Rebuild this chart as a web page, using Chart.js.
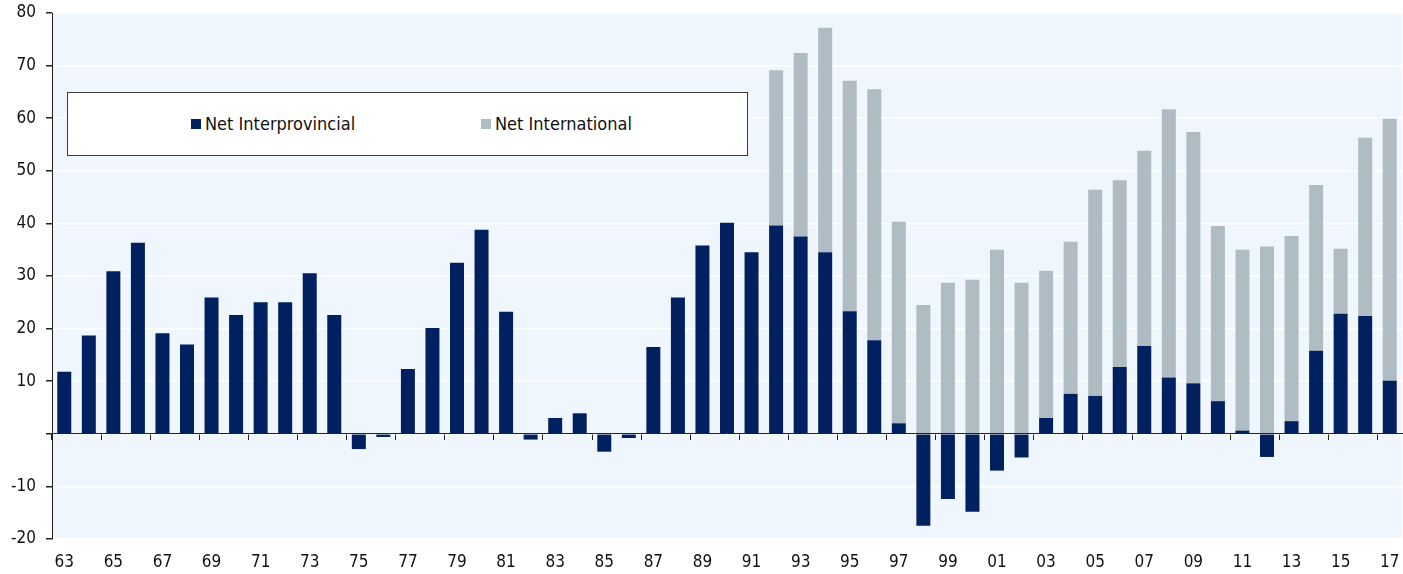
<!DOCTYPE html>
<html>
<head>
<meta charset="utf-8">
<script src="https://cdn.jsdelivr.net/npm/chart.js@4"></script>
<style>
  html, body { margin: 0; padding: 0; background: #fff; }
  #wrap { position: relative; width: 1403px; height: 574px; }
  #legend {
    position: absolute; left: 67px; top: 92px; width: 681px; height: 64px;
    box-sizing: border-box; border: 1px solid #3a3a3a; background: #fff;
    font-family: 'DejaVu Sans Condensed', 'DejaVu Sans', sans-serif; font-size: 18px; color: #111;
  }
  .item { position: absolute; top: 20px; white-space: nowrap; }
  .item span.box { display: inline-block; width: 10px; height: 10px; margin-right: 4px; vertical-align: 1px; }
</style>
</head>
<body>
<div id="wrap">
  <canvas id="chart"></canvas>
  <div id="legend"></div>
</div>
<script>
// años (dos dígitos)
const years = ['63','64','65','66','67','68','69','70','71','72','73','74','75','76','77','78','79','80','81','82',
  '83','84','85','86','87','88','89','90','91','92','93','94','95','96','97','98','99','00','01','02',
  '03','04','05','06','07','08','09','10','11','12','13','14','15','16','17'];

// migración neta interprovincial (miles)
const netInterprovincial = [11.8, 18.7, 30.9, 36.3, 19.1, 17.0, 25.9, 22.6, 25.0, 25.0,
  30.5, 22.6, -2.9, -0.6, 12.3, 20.1, 32.5, 38.8, 23.2, -1.1,
  3.0, 3.9, -3.4, -0.8, 16.5, 25.9, 35.8, 40.1, 34.5, 39.6,
  37.5, 34.5, 23.3, 17.8, 2.0, -17.5, -12.4, -14.8, -7.0, -4.5,
  3.0, 7.6, 7.2, 12.7, 16.7, 10.7, 9.6, 6.2, 0.6, -4.4,
  2.4, 15.8, 22.8, 22.4, 10.1];

// migración neta internacional (miles)
const netInternational = [null, null, null, null, null, null, null, null, null, null,
  null, null, null, null, null, null, null, null, null, null,
  null, null, null, null, null, null, null, null, null, 29.5,
  34.9, 42.7, 43.8, 47.7, 38.3, 24.5, 28.7, 29.3, 35.0, 28.7,
  28.0, 28.9, 39.2, 35.5, 37.1, 51.0, 47.8, 33.3, 34.4, 35.6,
  35.2, 31.5, 12.4, 33.9, 49.8];

const yTicks = [-20, -10, 0, 10, 20, 30, 40, 50, 60, 70, 80];

const colorInter = '#00205f';
const colorIntl = '#afbcc4';

Chart.defaults.font.family = "'DejaVu Sans Condensed', 'DejaVu Sans', sans-serif";
Chart.defaults.font.size = 17;
Chart.defaults.color = '#111';

// fondo del área de la gráfica
const plotBg = {
  id: 'plotBg',
  beforeDraw(chart) {
    const a = chart.chartArea;
    const ctx = chart.ctx;
    ctx.save();
    ctx.fillStyle = '#eff6fd';
    ctx.fillRect(a.left, a.top, a.right - a.left, a.bottom - a.top);
    ctx.restore();
  }
};

const chart = new Chart(document.getElementById('chart'), {
  type: 'bar',
  data: {
    labels: years,
    datasets: [
      { label: 'Net Interprovincial', data: netInterprovincial, backgroundColor: colorInter,
        barPercentage: 0.57, categoryPercentage: 1 },
      { label: 'Net International', data: netInternational, backgroundColor: colorIntl,
        barPercentage: 0.57, categoryPercentage: 1 }
    ]
  },
  options: {
    responsive: true,
    maintainAspectRatio: false,
    animation: false,
    layout: { padding: { top: 13, right: 1, left: 0, bottom: 0 } },
    plugins: { legend: { display: false }, tooltip: { enabled: false } },
    scales: {
      x: {
        stacked: true,
        grid: { display: false },
        border: { display: false },
        ticks: {
          autoSkip: false, maxRotation: 0, padding: 5,
          callback: (v, i) => i % 2 === 0 ? years[i] : ''
        },
        afterFit: s => { s.height = 35; s.paddingLeft = 0; s.paddingRight = 0; }
      },
      // eje en cero con marcas cada dos años
      x2: {
        type: 'category',
        labels: years,
        position: { y: 0 },
        offset: true,
        grid: {
          offset: true, drawOnChartArea: false, tickLength: 6, tickWidth: 1,
          tickColor: c => c.index % 2 === 0 ? '#222' : 'rgba(0,0,0,0)'
        },
        border: { display: true, color: '#222', width: 1 },
        ticks: { display: false }
      },
      y: {
        stacked: true,
        min: -20, max: 80,
        afterBuildTicks: s => { s.ticks = yTicks.map(v => ({ value: v })); },
        ticks: { padding: 10, callback: v => v === 0 ? '' : v },
        grid: { color: '#ffffff', lineWidth: 1.5, tickLength: 6, tickColor: '#222' },
        border: { display: true, color: '#222', width: 1 },
        afterFit: s => { s.width = 52; s.paddingTop = 0; s.paddingBottom = 0; }
      }
    }
  },
  plugins: [plotBg]
});

// leyenda en HTML
const legend = document.getElementById('legend');
const legendX = [123, 413];
chart.data.datasets.forEach((ds, i) => {
  const it = document.createElement('div');
  it.className = 'item';
  it.style.left = legendX[i] + 'px';
  it.innerHTML = '<span class="box" style="background:' + ds.backgroundColor + '"></span>' + ds.label;
  legend.appendChild(it);
});
</script>
</body>
</html>
